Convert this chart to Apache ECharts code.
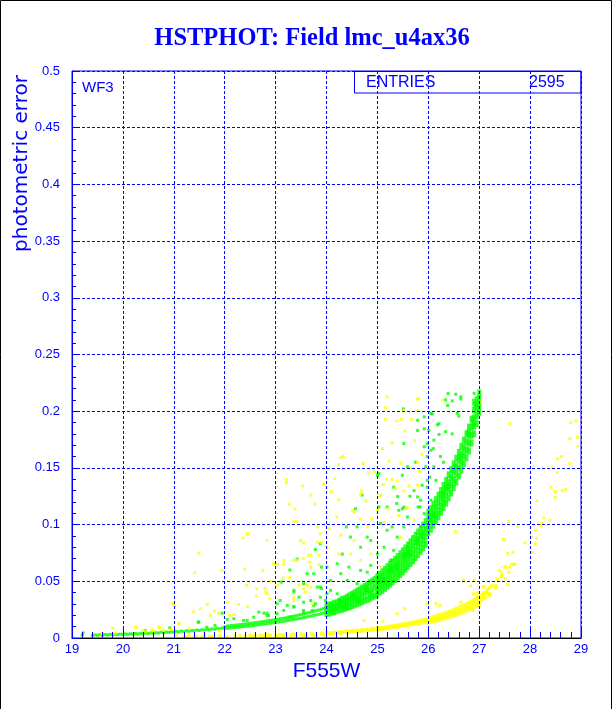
<!DOCTYPE html>
<html>
<head>
<meta charset="utf-8">
<script src="https://cdn.jsdelivr.net/npm/echarts@6/dist/echarts.min.js"></script>
<style>
html,body{margin:0;padding:0;background:#fff;}
#c{width:612px;height:709px;}
</style>
</head>
<body>
<div id="c"></div>
<script>
// ---- labels ----
var titleText = "HSTPHOT: Field lmc_u4ax36";
var xName = "F555W";
var yName = "photometric error";
var boxLabel = "ENTRIES";
var boxValue = "2595";
var chipLabel = "WF3";
var xRange = [19, 29];
var yRange = [0, 0.5];

// ---- green: main sequence band, thin bright part (F555W, error) ----
var greenBandThin = [
[19.2,0.0025],[19.22,0.0045],[19.4,0.0022],[19.45,0.0028],[19.5,0.0024],[19.55,0.003],[19.6,0.0026],[19.65,0.0031],[19.7,0.0027],[19.75,0.0032],
[19.8,0.0028],[19.85,0.0033],[19.9,0.003],[19.95,0.0034],[20.0,0.0031],[20.05,0.0036],[20.1,0.0032],[20.15,0.0037],[20.2,0.0034],[20.25,0.0039],
[20.3,0.0036],[20.35,0.0041],[20.4,0.0038],[20.45,0.0043],[20.5,0.004],[20.55,0.0045],[20.6,0.0042],[20.65,0.0047],[20.7,0.0044],[20.75,0.005],
[20.8,0.0046],[20.85,0.0052],[20.9,0.0049],[20.95,0.0055],[21.0,0.0051],[21.05,0.0058],[21.1,0.0054],[21.15,0.0061],[21.2,0.0057],[21.25,0.0064],
[21.3,0.006],[21.35,0.0067],[21.4,0.0063],[21.45,0.007],[21.5,0.0066],[21.55,0.0073],[21.6,0.0069],[21.65,0.0077],[21.7,0.0073],[21.75,0.0081],
[21.8,0.0077],[21.85,0.0085],[21.9,0.0081],[21.95,0.0089],[22.0,0.0085],[22.0,0.0098],
[22.05,0.0085],[22.05,0.0105],[22.1,0.0088],[22.1,0.0108],[22.15,0.009],[22.15,0.011],[22.2,0.0092],[22.2,0.0113],[22.25,0.0095],[22.25,0.0115],
[22.3,0.0097],[22.3,0.0118],[22.35,0.01],[22.35,0.012],[22.4,0.0102],[22.4,0.0123],[22.45,0.0105],[22.45,0.0126],[22.5,0.0107],[22.5,0.0129],
[22.55,0.011],[22.55,0.0132],[22.6,0.0113],[22.6,0.0135],[22.65,0.0116],[22.65,0.0138],[22.7,0.0119],[22.7,0.0141],[22.75,0.0122],[22.75,0.0145],
[22.8,0.0125],[22.8,0.0148],[22.85,0.0128],[22.85,0.0152],[22.9,0.0131],[22.9,0.0155],[22.95,0.0134],[22.95,0.0159],[23.0,0.0137],[23.0,0.0162],
[23.05,0.014],[23.05,0.0166],[23.1,0.0144],[23.1,0.017],[23.15,0.0147],[23.15,0.0174],[23.2,0.0151],[23.2,0.0178],[23.25,0.0155],[23.25,0.0183],
[23.3,0.0159],[23.3,0.0187],[23.35,0.0163],[23.35,0.0192],[23.4,0.0167],[23.4,0.0197],[23.45,0.0171],[23.45,0.0202],[23.5,0.0175],[23.5,0.0207],
[23.55,0.018],[23.55,0.0212],[23.6,0.0184],[23.6,0.0218],[23.65,0.0189],[23.65,0.0223],[23.7,0.0194],[23.7,0.0229],[23.75,0.0199],[23.75,0.0235],
[23.8,0.0204],[23.8,0.0241],[23.85,0.0209],[23.85,0.0247],[23.9,0.0215],[23.9,0.0254],[23.95,0.022],[23.95,0.026]
];

// ---- green: main sequence band, wide part ----
var greenBandWide = [
[24.0,0.0215],[24.0,0.025],[24.0,0.0285],[24.05,0.022],[24.05,0.0258],[24.05,0.029],[24.1,0.0228],[24.1,0.026],[24.1,0.0296],
[24.15,0.0232],[24.15,0.0272],[24.15,0.0305],[24.2,0.024],[24.2,0.0278],[24.2,0.0312],[24.25,0.0248],[24.25,0.029],[24.25,0.0325],
[24.3,0.0252],[24.3,0.0296],[24.3,0.0338],[24.35,0.026],[24.35,0.0305],[24.35,0.0345],[24.4,0.0268],[24.4,0.0318],[24.4,0.0358],
[24.45,0.0276],[24.45,0.0326],[24.45,0.0372],[24.5,0.0285],[24.5,0.034],[24.5,0.0385],[24.55,0.0292],[24.55,0.0348],[24.55,0.0398],
[24.6,0.0302],[24.6,0.0356],[24.6,0.0412],[24.65,0.0311],[24.65,0.0372],[24.65,0.0425],[24.7,0.032],[24.7,0.038],[24.7,0.044],
[24.75,0.0332],[24.75,0.0398],[24.75,0.0455],[24.8,0.034],[24.8,0.0408],[24.8,0.047],[24.85,0.035],[24.85,0.042],[24.85,0.0488],
[24.9,0.0362],[24.9,0.0436],[24.9,0.0502],[24.95,0.0372],[24.95,0.0452],[24.95,0.0518],
[25.0,0.039],[25.0,0.044],[25.0,0.049],[25.0,0.054],[25.05,0.0405],[25.05,0.0458],[25.05,0.051],[25.05,0.0562],
[25.1,0.042],[25.1,0.0475],[25.1,0.053],[25.1,0.0585],[25.15,0.0438],[25.15,0.0494],[25.15,0.055],[25.15,0.0606],
[25.2,0.0456],[25.2,0.0513],[25.2,0.057],[25.2,0.0628],[25.25,0.0475],[25.25,0.0533],[25.25,0.059],[25.25,0.065],
[25.3,0.0495],[25.3,0.0553],[25.3,0.0612],[25.3,0.0672],[25.35,0.0516],[25.35,0.0575],[25.35,0.0635],[25.35,0.0695],
[25.4,0.0538],[25.4,0.0598],[25.4,0.0658],[25.4,0.0718],[25.45,0.056],[25.45,0.062],[25.45,0.0682],[25.45,0.0742],
[25.5,0.0582],[25.5,0.0645],[25.5,0.0706],[25.5,0.0768],[25.55,0.0606],[25.55,0.0668],[25.55,0.0732],[25.55,0.0794],
[25.6,0.063],[25.6,0.0694],[25.6,0.0758],[25.6,0.082],[25.65,0.0655],[25.65,0.072],[25.65,0.0784],[25.65,0.0848],
[25.7,0.068],[25.7,0.0746],[25.7,0.0812],[25.7,0.0876],[25.75,0.0708],[25.75,0.0774],[25.75,0.084],[25.75,0.0905],
[25.8,0.0736],[25.8,0.0802],[25.8,0.0868],[25.8,0.0934],[25.85,0.0765],[25.85,0.0832],[25.85,0.0898],[25.85,0.0964],
[25.9,0.0795],[25.9,0.0862],[25.9,0.0928],[25.9,0.0995],[25.95,0.0826],[25.95,0.0893],[25.95,0.096],[25.95,0.1026],
[26.0,0.093],[26.0,0.099],[26.0,0.105],[26.0,0.111],[26.05,0.096],[26.05,0.102],[26.05,0.108],[26.05,0.114],
[26.1,0.0995],[26.1,0.1055],[26.1,0.1115],[26.1,0.118],[26.15,0.103],[26.15,0.109],[26.15,0.1155],[26.15,0.122],
[26.2,0.107],[26.2,0.113],[26.2,0.1195],[26.2,0.126],[26.25,0.111],[26.25,0.117],[26.25,0.1235],[26.25,0.13],
[26.3,0.115],[26.3,0.1215],[26.3,0.128],[26.3,0.1345],[26.35,0.119],[26.35,0.1258],[26.35,0.1325],[26.35,0.139],
[26.4,0.1235],[26.4,0.1302],[26.4,0.137],[26.4,0.1438],[26.45,0.128],[26.45,0.1348],[26.45,0.1415],[26.45,0.1485],
[26.5,0.1325],[26.5,0.1395],[26.5,0.1465],[26.5,0.1535],[26.55,0.1375],[26.55,0.1445],[26.55,0.1515],[26.55,0.1585],
[26.6,0.1428],[26.6,0.1498],[26.6,0.1568],[26.6,0.1638],[26.65,0.148],[26.65,0.155],[26.65,0.162],[26.65,0.169],
[26.7,0.1535],[26.7,0.1605],[26.7,0.1675],[26.7,0.1745],[26.75,0.159],[26.75,0.166],[26.75,0.173],[26.75,0.18],
[26.8,0.165],[26.8,0.172],[26.8,0.179],[26.8,0.186],[26.85,0.172],[26.85,0.179],[26.85,0.186],[26.85,0.193],
[26.9,0.18],[26.9,0.187],[26.9,0.194],[26.9,0.201],[26.9,0.208],[26.95,0.189],[26.95,0.196],[26.95,0.203],[26.95,0.21],
[27.0,0.199],[27.0,0.205],[27.0,0.211],[27.0,0.216],
[24.12,0.0245],[24.38,0.0285],[24.62,0.0335],[24.88,0.0395],[25.12,0.0505],[25.38,0.0625],[25.62,0.0745],[25.88,0.0905],
[26.12,0.1085],[26.38,0.1335],[26.62,0.1595],[26.88,0.1905],[24.27,0.0315],[24.53,0.0365],[24.78,0.0435],[25.03,0.0525],
[25.28,0.0605],[25.53,0.0725],[25.78,0.0855],[26.03,0.1065],[26.28,0.1265],[26.53,0.1505],[26.78,0.1805],[26.93,0.2055]
];

// ---- green: scattered stars above the band ----
var greenScatter = [
[25.51,0.202],[25.79,0.192],[25.92,0.1845],[26.08,0.1975],[26.18,0.188],[26.21,0.1795],[26.10,0.167],[26.39,0.2157],[26.47,0.209],[26.54,0.215],
[26.64,0.2107],[26.38,0.205],[26.60,0.1957],[26.34,0.182],[26.47,0.180],[25.98,0.160],[25.95,0.151],[26.03,0.142],[26.24,0.160],[26.11,0.151],
[25.80,0.1155],[25.49,0.1435],[25.88,0.1347],[25.98,0.133],[25.79,0.1244],[26.05,0.1215],[25.38,0.1186],[25.49,0.114],[24.70,0.126],[25.03,0.145],
[25.40,0.1247],[25.64,0.125],[25.84,0.1155],[25.92,0.1097],
[23.42,0.0696],[23.78,0.078],[23.28,0.060],[23.11,0.0493],[23.90,0.0625],[23.90,0.0437],[23.46,0.036],[23.55,0.0316],[23.78,0.0302],[24.01,0.039],
[23.98,0.0331],[23.03,0.0302],[23.23,0.0287],[22.77,0.0219],[22.86,0.0199],[22.57,0.0184],[22.18,0.017],[21.95,0.0219],[22.37,0.0155],[21.48,0.014],
[21.81,0.011],[23.55,0.0228],[23.72,0.0243],[23.28,0.0184],
[24.60,0.098],[23.88,0.083],[24.80,0.089],[24.31,0.074],[24.44,0.0625],[24.67,0.0596],[24.08,0.0508],[24.21,0.039],[23.88,0.036],[23.69,0.0331],
[23.36,0.0272],[24.54,0.039],[24.80,0.0449],[24.80,0.058],[25.26,0.0685],[25.39,0.089],[25.52,0.1155],[25.85,0.098],[25.52,0.098],[25.72,0.130],
[25.32,0.0773],[25.13,0.080],[25.0,0.074],[24.87,0.064],
[23.62,0.0567],[23.82,0.0449],[22.83,0.0219],[22.67,0.0228],[22.44,0.0155],[22.05,0.0163],[21.49,0.014],[21.65,0.0095],[20.92,0.009],[23.09,0.0331],
[23.36,0.0278],[23.55,0.0243],[23.75,0.0287],[23.36,0.0405],[20.44,0.0066],
[24.39,0.098],[24.57,0.114],[25.0,0.1435],[25.03,0.1155],[25.19,0.1155],[25.32,0.133],[25.42,0.1126],[25.59,0.151],[25.75,0.155],[25.92,0.1686],
[26.05,0.1656],[26.11,0.1745],[26.21,0.189],[26.34,0.21],[26.64,0.2127],[26.90,0.2157],[26.57,0.198],[26.30,0.155],[26.15,0.139],[25.79,0.086],
[25.59,0.080],[24.87,0.086],[24.67,0.080],[24.47,0.089],[24.21,0.0655],[24.01,0.0625],[23.75,0.0567],[23.55,0.0479],[23.36,0.042],[24.41,0.0508],
[24.60,0.0479],[24.28,0.0567],[23.03,0.0214],[23.16,0.0243],[22.83,0.0199],[23.88,0.0449],[24.08,0.042],[25.19,0.095],[25.29,0.098],[25.06,0.101],
[25.59,0.1067],[25.85,0.1215],[25.98,0.139],[26.01,0.183],[25.98,0.1715],[25.79,0.183],[25.52,0.1715],[26.05,0.198],[25.92,0.195]
];

// ---- yellow: lower sequence band ----
var yellowBand = [
[21.2,0.001],[21.3,0.0015],[21.45,0.001],[21.6,0.0018],[21.75,0.0012],[21.9,0.0015],[22.05,0.001],[22.2,0.0016],[22.3,0.002],[22.4,0.0012],
[22.5,0.0022],[22.55,0.0015],[22.6,0.002],[22.7,0.0025],[22.75,0.0018],[22.8,0.0022],[22.85,0.0028],[22.9,0.002],[23.0,0.0025],[23.05,0.0018],
[23.1,0.0028],[23.15,0.0022],[23.2,0.003],[23.3,0.0025],[23.35,0.0032],[23.4,0.0027],[23.5,0.0033],[23.55,0.0026],[23.6,0.003],[23.7,0.0035],
[23.75,0.0028],[23.8,0.0033],[23.9,0.0038],[23.95,0.003],
[24.0,0.004],[24.0,0.0048],[24.05,0.0042],[24.1,0.0045],[24.1,0.0038],[24.15,0.0047],[24.2,0.0044],[24.2,0.005],[24.25,0.0048],[24.3,0.0051],
[24.3,0.0045],[24.35,0.0053],[24.4,0.005],[24.4,0.0058],[24.45,0.0055],[24.5,0.0057],[24.5,0.0063],[24.55,0.006],[24.6,0.0058],[24.6,0.0066],
[24.65,0.0063],[24.7,0.0065],[24.7,0.0072],[24.75,0.0068],[24.8,0.0066],[24.8,0.0075],[24.85,0.0072],[24.9,0.0075],[24.9,0.0082],[24.95,0.0078],
[25.0,0.0075],[25.0,0.0084],[25.05,0.008],[25.05,0.009],[25.1,0.0078],[25.1,0.0088],[25.15,0.0083],[25.15,0.0094],[25.2,0.0086],[25.2,0.0096],
[25.25,0.009],[25.25,0.0101],[25.3,0.0092],[25.3,0.0104],[25.35,0.0097],[25.35,0.0108],[25.4,0.01],[25.4,0.0112],[25.45,0.0104],[25.45,0.0117],
[25.5,0.0107],[25.5,0.012],[25.55,0.0111],[25.55,0.0125],[25.6,0.0114],[25.6,0.0129],[25.65,0.0118],[25.65,0.0134],[25.7,0.0122],[25.7,0.0138],
[25.75,0.0126],[25.75,0.0143],[25.8,0.013],[25.8,0.0148],[25.85,0.0134],[25.85,0.0153],[25.9,0.0138],[25.9,0.0158],[25.95,0.0143],[25.95,0.0163],
[26.0,0.0135],[26.0,0.0152],[26.0,0.0172],[26.05,0.0142],[26.05,0.0158],[26.05,0.0178],[26.1,0.0147],[26.1,0.0164],[26.1,0.0185],
[26.15,0.0152],[26.15,0.017],[26.15,0.0192],[26.2,0.0158],[26.2,0.0177],[26.2,0.0199],[26.25,0.0164],[26.25,0.0184],[26.25,0.0206],
[26.3,0.017],[26.3,0.0191],[26.3,0.0214],[26.35,0.0176],[26.35,0.0198],[26.35,0.0222],[26.4,0.0183],[26.4,0.0206],[26.4,0.023],
[26.45,0.019],[26.45,0.0214],[26.45,0.0239],[26.5,0.0197],[26.5,0.0222],[26.5,0.0248],[26.55,0.0205],[26.55,0.023],[26.55,0.0258],
[26.6,0.0213],[26.6,0.0239],[26.6,0.0268],[26.65,0.0221],[26.65,0.0248],[26.65,0.0278],[26.7,0.023],[26.7,0.0258],[26.7,0.0289],
[26.75,0.0239],[26.75,0.0268],[26.75,0.03],[26.8,0.0249],[26.8,0.0279],[26.8,0.0312],[26.85,0.0259],[26.85,0.029],[26.85,0.0324],
[26.9,0.027],[26.9,0.0302],[26.9,0.0337],[26.95,0.0281],[26.95,0.0314],[26.95,0.035],[27.0,0.0293],[27.0,0.0327],[27.0,0.0364],
[27.05,0.034],[27.05,0.038],[27.1,0.0355],[27.1,0.0395],[27.15,0.042],[27.2,0.039],[27.2,0.044],[27.25,0.046]
];

// ---- yellow: scattered stars and faint tail ----
var yellowScatter = [
[27.6,0.189],[28.80,0.190],[28.90,0.1915],[28.93,0.177],[28.78,0.176],[28.94,0.169],[28.62,0.16],[28.54,0.158],[28.78,0.154],[28.43,0.15],
[28.53,0.146],[28.41,0.133],[28.50,0.129],[28.63,0.13],[28.70,0.131],[28.49,0.124],[28.13,0.121],[28.27,0.106],[28.39,0.104],[27.58,0.103],
[28.23,0.101],[28.22,0.099],[27.75,0.0985],[28.11,0.095],[28.02,0.089],[28.13,0.088],[27.48,0.087],[27.90,0.084],[28.10,0.083],[28.05,0.0755],
[27.66,0.0755],[27.56,0.0746],[27.64,0.065],[27.70,0.065],[27.50,0.0625],[27.60,0.0625],[27.40,0.0596],[27.44,0.0567],[27.58,0.058],[27.44,0.0546],
[27.51,0.0523],[27.36,0.0517],[27.56,0.0475],[27.32,0.046],[27.32,0.0437],[27.08,0.045],[27.15,0.040],[27.21,0.038],[27.08,0.038],[26.96,0.0396],
[27.13,0.0355],[27.06,0.0337],[26.90,0.0325],[26.96,0.0287],[26.87,0.0243],[26.83,0.046],
[25.19,0.2127],[25.79,0.2107],[25.16,0.203],[25.52,0.2004],[25.78,0.2007],[25.16,0.193],[25.38,0.1915],[25.47,0.193],[25.67,0.193],[25.54,0.1827],
[25.29,0.172],[25.73,0.174],[25.10,0.167],[25.87,0.162],[24.33,0.160],[24.72,0.154],[25.23,0.156],[25.46,0.154],[25.79,0.155],[25.65,0.150],
[24.24,0.153],[24.94,0.1465],[24.83,0.1456],[25.83,0.147],[24.16,0.1406],[25.18,0.140],[25.29,0.1397],[23.94,0.1356],[25.12,0.1353],[25.39,0.1385],
[25.62,0.134],[25.36,0.132],[25.79,0.1347],[24.10,0.129],[24.69,0.1297],[25.06,0.126],[25.52,0.1297],[24.24,0.122],[24.78,0.121],[25.05,0.125],
[25.21,0.114],[25.59,0.1147],[24.51,0.113],[24.89,0.105],[24.67,0.105],[25.42,0.108],[24.20,0.1067],
[23.21,0.1397],[23.21,0.1368],[23.53,0.134],[23.69,0.126],[23.27,0.118],[23.77,0.118],[23.38,0.1138],[23.41,0.103],[22.45,0.092],[22.36,0.088],
[22.83,0.086],[23.55,0.0838],[23.82,0.0844],[23.90,0.0844],[21.49,0.0749],[23.69,0.073],[23.85,0.073],[23.17,0.0685],[23.67,0.0667],[23.85,0.0647],
[21.95,0.0596],[22.39,0.0608],[21.41,0.0576],[23.15,0.0528],[23.28,0.0532],[23.03,0.0647],[22.43,0.0464],[23.03,0.0464],[22.79,0.0437],[22.62,0.0367],
[22.83,0.039],[22.89,0.0346],[23.36,0.036],[23.46,0.0467],[23.55,0.0435],[23.69,0.0449],[20.99,0.0302],[21.38,0.0228],[21.66,0.0296],[21.88,0.0219],
[22.27,0.0296],[22.45,0.0278],[22.10,0.0199],[21.72,0.0199],[21.10,0.0131],[20.72,0.0095],[20.25,0.0095],[20.57,0.0072],
[22.75,0.0596],[24.28,0.159],[25.81,0.211],[26.28,0.2098],[27.03,0.208],[26.54,0.094],
[24.67,0.127],[24.54,0.111],[24.28,0.0905],[24.54,0.086],[24.80,0.098],[25.0,0.1126],[25.14,0.102],[25.46,0.089],[25.72,0.104],[26.69,0.0508],
[26.90,0.0508],[27.16,0.039],[24.05,0.0965],[23.88,0.092],[23.55,0.07],[23.36,0.0685],[23.16,0.0655],[22.96,0.0655],[23.69,0.0625],[24.01,0.080],
[24.24,0.074],[24.47,0.074],[24.67,0.0685],[24.87,0.074],[25.06,0.0625],
[19.80,0.0087],[19.58,0.0037],[20.27,0.0095],[20.39,0.0066],[20.71,0.0095],[20.99,0.0307],[21.02,0.0287],[21.10,0.0125],[21.52,0.0258],[21.80,0.0237],
[22.05,0.0316],[22.18,0.0208],[22.44,0.0914],[22.63,0.0435],[22.81,0.0405],[22.91,0.0502],[23.36,0.103],[23.41,0.0685],[23.49,0.086],[23.65,0.0729],
[23.82,0.098],[23.62,0.0464],[23.59,0.0405],[23.36,0.0331],[23.72,0.0302],
[26.15,0.0302],[25.98,0.0302],[26.23,0.0287],[25.54,0.0258],[25.39,0.0214],[24.74,0.0155],[25.11,0.0149],[26.89,0.039],[27.1,0.045],[27.33,0.046],
[27.43,0.054],[27.52,0.0625],[27.68,0.065],[27.08,0.040],[27.19,0.0375],[26.97,0.036],[26.64,0.0316],[26.77,0.0272],
[20.45,0.0058],[20.6,0.006],[20.8,0.0068],[20.95,0.0075],[21.05,0.0025],[21.3,0.0085],[19.85,0.0045],[21.6,0.004],[21.9,0.0062],
[21.25,0.0008],[21.4,0.0015],[21.55,0.0008],[21.7,0.0012]
];

var BLUE = '#0000ff';
var GREEN = '#00ff00';
var YELLOW = '#ffff00';
var chart = echarts.init(document.getElementById('c'), null, {renderer: 'canvas'});

function axisCommon() {
  return {
    axisLabel: {color: BLUE, fontSize: 13, fontFamily: 'Liberation Sans'},
    splitLine: {show: true, lineStyle: {color: BLUE, width: 1, type: [3, 2]}},
    minorSplitLine: {show: false}
  };
}

var xA = axisCommon();
xA.type = 'value';
xA.min = xRange[0]; xA.max = xRange[1]; xA.interval = 1;
xA.name = xName; xA.nameLocation = 'middle'; xA.nameGap = 20;
xA.nameTextStyle = {color: BLUE, fontSize: 21, fontFamily: 'Liberation Sans'};
xA.axisLine = {show: true, onZero: false, lineStyle: {color: '#000', width: 1}};
xA.axisTick = {show: true, inside: true, length: 11, lineStyle: {color: BLUE, width: 1}};
xA.minorTick = {show: true, splitNumber: 5, length: 6, lineStyle: {color: BLUE, width: 1}};
xA.axisLabel.margin = 5;
xA.z = 3;

var yA = axisCommon();
yA.type = 'value';
yA.min = yRange[0]; yA.max = yRange[1]; yA.interval = 0.05;
yA.axisLine = {show: true, onZero: false, lineStyle: {color: BLUE, width: 1}};
yA.axisTick = {show: true, inside: true, length: 8, lineStyle: {color: BLUE, width: 1}};
yA.minorTick = {show: true, splitNumber: 5, length: 4, lineStyle: {color: BLUE, width: 1}};
yA.axisLabel.margin = 12;
yA.z = 3;

function scat(name, data, size, color) {
  return {type: 'scatter', name: name, data: data, symbol: 'rect', symbolSize: size,
          itemStyle: {color: color}, silent: true, z: 2};
}

var option = {
  animation: false,
  backgroundColor: '#ffffff',
  grid: {left: 72, right: 31, top: 71, bottom: 71, show: true, borderColor: BLUE, borderWidth: 1, backgroundColor: 'transparent', z: 3},
  xAxis: xA,
  yAxis: yA,
  series: [
    scat('green thin', greenBandThin, [3, 3], GREEN),
    scat('green wide', greenBandWide, [4, 7], GREEN),
    scat('green scatter', greenScatter, [3, 3], GREEN),
    scat('yellow band', yellowBand, [3, 4], YELLOW),
    scat('yellow scatter', yellowScatter, [3, 3], YELLOW)
  ],
  graphic: [
    {type: 'polyline', silent: true, shape: {points: [[0.5, 709], [0.5, 0.5], [611.5, 0.5], [611.5, 709]]},
     style: {stroke: '#000', lineWidth: 1, fill: null}, z: 10},
    {type: 'text', silent: true, x: 312, y: 39,
     style: {text: titleText, fill: BLUE, font: 'bold 24.5px "Liberation Serif"', textAlign: 'center', textVerticalAlign: 'middle'}},
    {type: 'text', silent: true, x: 22, y: 163.5, rotation: Math.PI / 2,
     style: {text: yName, fill: BLUE, font: '20px "DejaVu Sans"', textAlign: 'center', textVerticalAlign: 'middle'}},
    {type: 'rect', silent: true, shape: {x: 354.5, y: 71.5, width: 226.5, height: 21.5},
     style: {fill: null, stroke: BLUE, lineWidth: 1}, z: 10},
    {type: 'text', silent: true, x: 366, y: 83,
     style: {text: boxLabel, fill: BLUE, font: '16px "Liberation Sans"', textAlign: 'left', textVerticalAlign: 'middle'}},
    {type: 'text', silent: true, x: 529, y: 83,
     style: {text: boxValue, fill: BLUE, font: '16px "Liberation Sans"', textAlign: 'left', textVerticalAlign: 'middle'}},
    {type: 'text', silent: true, x: 82, y: 88,
     style: {text: chipLabel, fill: BLUE, font: '15px "Liberation Sans"', textAlign: 'left', textVerticalAlign: 'middle'}}
  ]
};
chart.setOption(option);
</script>
</body>
</html>
